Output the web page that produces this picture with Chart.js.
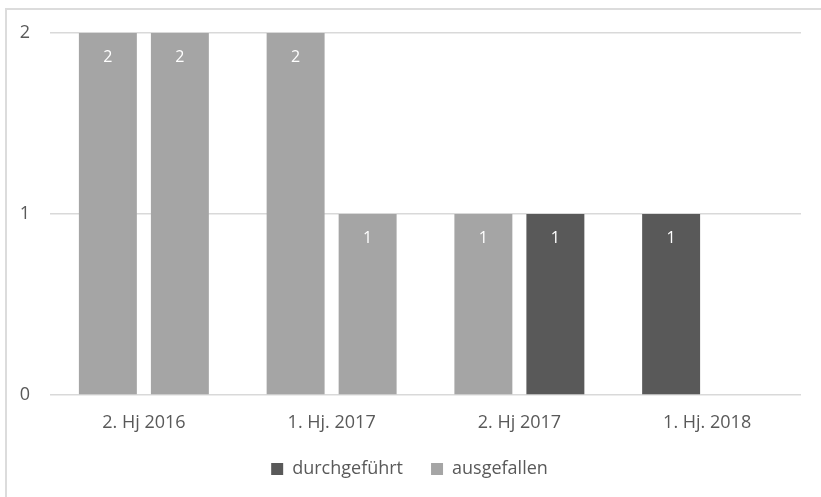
<!DOCTYPE html>
<html>
<head>
<meta charset="utf-8">
<script src="https://cdn.jsdelivr.net/npm/chart.js@4/dist/chart.umd.min.js"></script>
<style>
  html, body { margin: 0; padding: 0; background: #fff; }
  #wrap { position: absolute; left: 0; top: 0; width: 821px; height: 497px; overflow: hidden; }
  #frame { position: absolute; left: 5px; top: 8px; width: 900px; height: 600px;
           border-left: 2px solid #dcdcdc; border-top: 2px solid #dcdcdc; }
  canvas { position: absolute; left: 0; top: 0; }
</style>
</head>
<body>
<div id="wrap">
  <div id="frame"></div>
  <canvas id="c" width="821" height="497"></canvas>
</div>
<script>
// Categories (half-years)
const categories = ['2. Hj 2016', '1. Hj. 2017', '2. Hj 2017', '1. Hj. 2018'];
// Values of the first and second bar in each category
const firstBarValues  = [2, 2, 1, 1];
const secondBarValues = [2, 1, 1, null];
// Status of each bar (drives the colour)
const firstBarStatus  = ['ausgefallen', 'ausgefallen', 'ausgefallen', 'durchgeführt'];
const secondBarStatus = ['ausgefallen', 'ausgefallen', 'durchgeführt', null];
// Legend entries
const statusNames = ['durchgeführt', 'ausgefallen'];
// Y tick values
const yTicks = [0, 1, 2];

const statusColors = { 'durchgeführt': '#595959', 'ausgefallen': '#a5a5a5' };
const FONT = "'Open Sans', sans-serif";
const TXT = '#595959';

const dataLabels = {
  id: 'dataLabels',
  afterDatasetsDraw(chart) {
    const ctx = chart.ctx;
    ctx.save();
    ctx.fillStyle = '#ffffff';
    ctx.font = '16px ' + FONT;
    ctx.textAlign = 'center';
    ctx.textBaseline = 'middle';
    chart.data.datasets.forEach((ds, di) => {
      const meta = chart.getDatasetMeta(di);
      meta.data.forEach((bar, i) => {
        const v = ds.data[i];
        if (v === null || v === undefined) return;
        ctx.fillText(String(v), bar.x, bar.y + 24);
      });
    });
    ctx.restore();
  }
};

new Chart(document.getElementById('c'), {
  type: 'bar',
  data: {
    labels: categories,
    datasets: [
      { label: 'Balken 1', data: firstBarValues,
        backgroundColor: firstBarStatus.map(s => s ? statusColors[s] : 'rgba(0,0,0,0)') },
      { label: 'Balken 2', data: secondBarValues,
        backgroundColor: secondBarStatus.map(s => s ? statusColors[s] : 'rgba(0,0,0,0)') }
    ]
  },
  options: {
    responsive: false,
    animation: false,
    devicePixelRatio: 1,
    layout: { padding: { top: 33, left: 18, right: 20, bottom: 9 } },
    datasets: { bar: { categoryPercentage: 0.767, barPercentage: 0.805 } },
    scales: {
      x: {
        grid: { display: false, drawTicks: false },
        border: { display: false },
        ticks: { color: TXT, font: { family: FONT, size: 18 }, padding: 17, maxRotation: 0 },
        afterFit(s) { s.height = 37; }
      },
      y: {
        min: 0, max: 2,
        afterBuildTicks(s) { s.ticks = yTicks.map(v => ({ value: v })); },
        grid: { color: '#d9d9d9', lineWidth: 1.5, drawTicks: false },
        border: { display: false },
        ticks: { color: TXT, font: { family: FONT, size: 18 }, padding: 20 },
        afterFit(s) { s.width = 32; }
      }
    },
    plugins: {
      legend: {
        position: 'bottom',
        labels: {
          color: TXT,
          font: { family: FONT, size: 18 },
          boxWidth: 12, boxHeight: 12,
          padding: 28,
          generateLabels() {
            return statusNames.map(n => ({
              text: n, fillStyle: statusColors[n], strokeStyle: statusColors[n],
              lineWidth: 0, hidden: false, fontColor: TXT
            }));
          }
        },
        onClick() {}
      },
      tooltip: { enabled: false }
    }
  },
  plugins: [dataLabels]
});
</script>
</body>
</html>
